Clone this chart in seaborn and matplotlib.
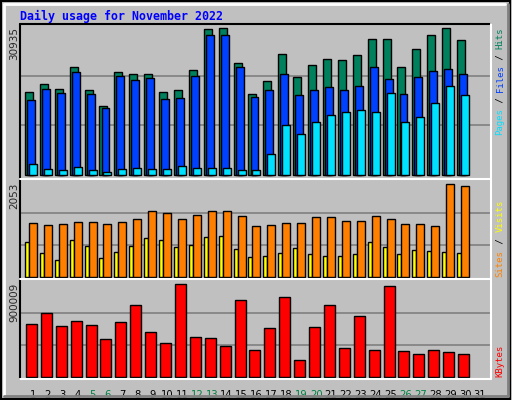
import matplotlib.pyplot as plt
import seaborn as sns
import numpy as np

days = list(range(1, 32))
hits = [17186, 18836, 17805, 22342, 17599, 14299, 21311, 20898, 20898, 17186,
        17599, 21723, 30179, 30385, 23167, 16774, 19455, 25023, 20280, 22755,
        23992, 23786, 24817, 28117, 28117, 22342, 26054, 28942, 30385, 27910, 0]
files = [15605, 17805, 16980, 21311, 16774, 13886, 20486, 19661, 20073, 15742,
         15949, 20486, 28942, 28942, 22342, 16155, 17599, 20898, 16567, 17599,
         18217, 17599, 18424, 22342, 19867, 16774, 20280, 21517, 21930, 20898, 0]
pages = [2200, 1306, 1100, 1719, 1100, 687, 1306, 1512, 1306, 1306,
         1925, 1512, 1512, 1512, 1100, 1100, 4400, 10380, 8524, 11000,
         12443, 13061, 13474, 13061, 16980, 11000, 12030, 14918, 18424, 16567, 0]
visits = [1155, 1112, 1133, 1176, 1176, 1133, 1176, 1240, 1411, 1369,
          1240, 1326, 1411, 1411, 1305, 1091, 1112, 1155, 1155, 1283,
          1283, 1198, 1198, 1305, 1240, 1133, 1133, 1091, 1967, 1925, 0]
sites = [748, 513, 364, 791, 663, 406, 535, 663, 834, 791,
         642, 684, 855, 877, 599, 428, 449, 513, 620, 492,
         449, 449, 492, 748, 642, 492, 577, 556, 535, 513, 0]
kbytes = [494371, 598950, 475357, 522893, 484864, 351764, 513386, 675007, 418314, 313736,
          865150, 370778, 361271, 294720, 722543, 256692, 456342, 751064, 161621, 465849,
          675007, 275706, 570428, 256692, 846136, 247185, 218664, 256692, 237678, 218664, 0]
weekend = [5, 6, 12, 13, 19, 20, 26, 27]

sns.set_style("white")
plt.rcParams['font.family'] = ['DejaVu Sans Mono', 'DejaVu Sans']
BG = '#C0C0C0'
W, H = 512, 400
fig = plt.figure(figsize=(5.12, 4.0), dpi=100, facecolor=BG)


def box(l, t, r, b):
    return [l / W, 1 - b / H, (r - l) / W, (b - t) / H]


ax1 = fig.add_axes(box(20, 25, 491, 178))
ax2 = fig.add_axes(box(20, 180, 491, 278))
ax3 = fig.add_axes(box(20, 280, 491, 378))
edge = dict(edgecolor='black', linewidth=1, align='edge')


def bars(ax, vals, off, width, color):
    # skip days without data (day 31)
    xs = np.array([d for d, v in zip(days, vals) if v > 0], dtype=float)
    vs = [v for v in vals if v > 0]
    ax.bar(xs + off, vs, width, color=color, **edge)


bars(ax1, hits, -0.54, 0.54, '#00805C')
bars(ax1, files, -0.40, 0.53, '#0040FF')
bars(ax1, pages, -0.27, 0.54, '#00E0FF')
ax1.set_ylim(-600, 31100)

bars(ax2, sites, -0.54, 0.27, '#FFFF00')
bars(ax2, visits, -0.27, 0.54, '#FF8000')
ax2.set_ylim(-20, 2060)

bars(ax3, kbytes, -0.47, 0.74, '#FF0000')
ax3.set_ylim(-8000, 905000)

for ax, top in [(ax1, 30935), (ax2, 2053), (ax3, 900009)]:
    ax.set_facecolor(BG)
    ax.set_xlim(0.13, 31.74)
    ax.set_yticks([top / 3, 2 * top / 3])
    ax.yaxis.grid(True, color='#808080', linewidth=1.2)
    ax.set_axisbelow(True)
    ax.tick_params(left=False, bottom=False, labelleft=False, labelbottom=False)
    for s in ax.spines.values():
        s.set_visible(False)

ax3.set_xticks(days)
ax3.set_xticklabels([str(d) for d in days], fontsize=7.2, family='DejaVu Sans')
ax3.tick_params(labelbottom=True, pad=5)
for lab, d in zip(ax3.get_xticklabels(), days):
    lab.set_color('#008040' if d in weekend else 'black')

# frame lines
fig.add_artist(plt.Line2D([20 / W, 491 / W], [1 - 24 / H] * 2, color='black', lw=1.5))
fig.add_artist(plt.Line2D([20 / W] * 2, [1 - 24 / H, 1 - 379 / H], color='black', lw=1.5))
fig.add_artist(plt.Line2D([491 / W] * 2, [1 - 24 / H, 1 - 379 / H], color='white', lw=1.5))
for yy in [179, 279, 379]:
    fig.add_artist(plt.Line2D([20 / W, 491 / W], [1 - yy / H] * 2, color='white', lw=1.5))
fig.add_artist(plt.Rectangle((0.002, 0.003), 0.994, 0.994, fill=False, ec='black', lw=1.5))
fig.add_artist(plt.Line2D([4 / W, 505 / W], [1 - 4 / H] * 2, color='white', lw=2))
fig.add_artist(plt.Line2D([4 / W] * 2, [1 - 4 / H, 1 - 395 / H], color='white', lw=2))
fig.add_artist(plt.Line2D([4 / W, 508 / W], [1 - 396 / H] * 2, color='#808080', lw=2))
fig.add_artist(plt.Line2D([508 / W] * 2, [1 - 4 / H, 1 - 396 / H], color='#808080', lw=2))

fig.text(20 / W, 1 - 16 / H, 'Daily usage for November 2022', color='#0000FF',
         fontsize=8.4, fontweight='bold', va='center')

# left max labels
for txt, ytop in [('30935', 27), ('2053', 183), ('900009', 283)]:
    fig.text(14 / W, 1 - ytop / H, txt, rotation=90, fontsize=7.5, family='DejaVu Sans',
             ha='center', va='top')


def side_label(parts, ybottom, char=5.4):
    k = 0
    for txt, col in parts:
        fig.text(500 / W, 1 - (ybottom - k * char) / H, txt, rotation=90, color=col,
                 fontsize=6.5, rotation_mode='anchor', ha='left', va='center')
        k += len(txt)


side_label([('Pages', '#00E0FF'), (' / ', 'black'), ('Files', '#0040FF'),
            (' / ', 'black'), ('Hits', '#00805C')], 135)
side_label([('Sites', '#FF8000'), (' / ', 'black'), ('Visits', '#FFFF00')], 277, 5.6)
side_label([('KBytes', '#FF0000')], 377, 6.0)

fig.savefig('out.png', dpi=100, facecolor=BG)
